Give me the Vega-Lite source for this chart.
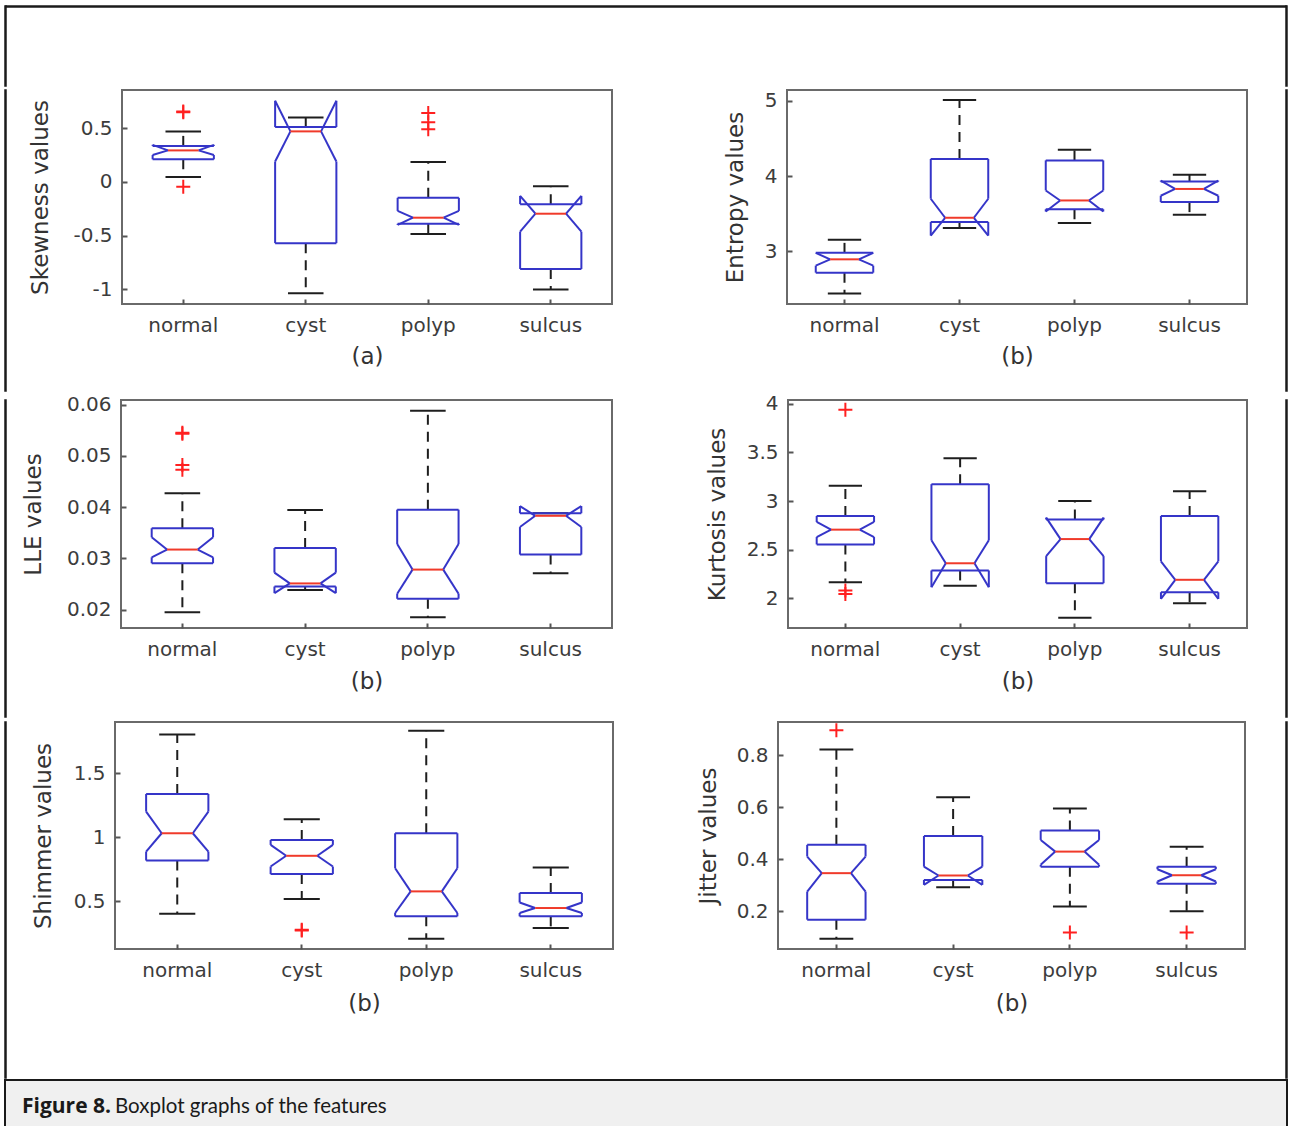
{
"$schema": "https://vega.github.io/schema/vega-lite/v6.json",
"padding": {"left": 2, "top": 3, "right": 0, "bottom": 0},
"background": "#ffffff",
"spacing": 0,
"datasets": {
"boxes": [
{"feature":"Skewness","group":"normal","q1":0.21,"q3":0.335,"med":0.293,"nlo":0.25,"nhi":0.345,"wlo":0.046,"whi":0.47},
{"feature":"Skewness","group":"cyst","q1":-0.57,"q3":0.51,"med":0.47,"nlo":0.19,"nhi":0.755,"wlo":-1.035,"whi":0.6},
{"feature":"Skewness","group":"polyp","q1":-0.39,"q3":-0.148,"med":-0.333,"nlo":-0.4,"nhi":-0.27,"wlo":-0.485,"whi":0.185},
{"feature":"Skewness","group":"sulcus","q1":-0.81,"q3":-0.207,"med":-0.296,"nlo":-0.463,"nhi":-0.13,"wlo":-1.0,"whi":-0.04},
{"feature":"Entropy","group":"normal","q1":2.717,"q3":2.98,"med":2.894,"nlo":2.81,"nhi":2.98,"wlo":2.44,"whi":3.155},
{"feature":"Entropy","group":"cyst","q1":3.39,"q3":4.23,"med":3.447,"nlo":3.21,"nhi":3.7,"wlo":3.31,"whi":5.013},
{"feature":"Entropy","group":"polyp","q1":3.56,"q3":4.21,"med":3.677,"nlo":3.53,"nhi":3.81,"wlo":3.376,"whi":4.35},
{"feature":"Entropy","group":"sulcus","q1":3.655,"q3":3.93,"med":3.83,"nlo":3.74,"nhi":3.94,"wlo":3.487,"whi":4.02},
{"feature":"LLE","group":"normal","q1":0.02904,"q3":0.03587,"med":0.03171,"nlo":0.0302,"nhi":0.0341,"wlo":0.01948,"whi":0.0427},
{"feature":"LLE","group":"cyst","q1":0.0245,"q3":0.032,"med":0.0251,"nlo":0.0232,"nhi":0.0272,"wlo":0.0238,"whi":0.03945},
{"feature":"LLE","group":"polyp","q1":0.0221,"q3":0.0395,"med":0.0278,"nlo":0.0231,"nhi":0.0328,"wlo":0.0185,"whi":0.0588},
{"feature":"LLE","group":"sulcus","q1":0.03073,"q3":0.0388,"med":0.0383,"nlo":0.0361,"nhi":0.0402,"wlo":0.0271,"whi":0.0388},
{"feature":"Kurtosis","group":"normal","q1":2.554,"q3":2.847,"med":2.706,"nlo":2.63,"nhi":2.785,"wlo":2.165,"whi":3.157},
{"feature":"Kurtosis","group":"cyst","q1":2.286,"q3":3.174,"med":2.36,"nlo":2.114,"nhi":2.596,"wlo":2.13,"whi":3.44},
{"feature":"Kurtosis","group":"polyp","q1":2.155,"q3":2.81,"med":2.609,"nlo":2.434,"nhi":2.83,"wlo":1.8,"whi":3.0},
{"feature":"Kurtosis","group":"sulcus","q1":2.062,"q3":2.847,"med":2.19,"nlo":1.993,"nhi":2.38,"wlo":1.948,"whi":3.1},
{"feature":"Shimmer","group":"normal","q1":0.818,"q3":1.338,"med":1.031,"nlo":0.888,"nhi":1.2,"wlo":0.403,"whi":1.803},
{"feature":"Shimmer","group":"cyst","q1":0.712,"q3":0.979,"med":0.855,"nlo":0.771,"nhi":0.94,"wlo":0.517,"whi":1.14},
{"feature":"Shimmer","group":"polyp","q1":0.382,"q3":1.031,"med":0.577,"nlo":0.408,"nhi":0.758,"wlo":0.208,"whi":1.831},
{"feature":"Shimmer","group":"sulcus","q1":0.382,"q3":0.564,"med":0.447,"nlo":0.408,"nhi":0.49,"wlo":0.291,"whi":0.764},
{"feature":"Jitter","group":"normal","q1":0.167,"q3":0.455,"med":0.346,"nlo":0.275,"nhi":0.41,"wlo":0.093,"whi":0.822},
{"feature":"Jitter","group":"cyst","q1":0.32,"q3":0.489,"med":0.337,"nlo":0.301,"nhi":0.371,"wlo":0.292,"whi":0.638},
{"feature":"Jitter","group":"polyp","q1":0.371,"q3":0.51,"med":0.429,"nlo":0.378,"nhi":0.474,"wlo":0.218,"whi":0.595},
{"feature":"Jitter","group":"sulcus","q1":0.305,"q3":0.371,"med":0.338,"nlo":0.314,"nhi":0.361,"wlo":0.199,"whi":0.448}
],
"outliers": [
{"feature":"Skewness","group":"normal","value":0.648},
{"feature":"Skewness","group":"normal","value":0.655},
{"feature":"Skewness","group":"normal","value":-0.046},
{"feature":"Skewness","group":"polyp","value":0.64},
{"feature":"Skewness","group":"polyp","value":0.555},
{"feature":"Skewness","group":"polyp","value":0.49},
{"feature":"LLE","group":"normal","value":0.0545},
{"feature":"LLE","group":"normal","value":0.0543},
{"feature":"LLE","group":"normal","value":0.0482},
{"feature":"LLE","group":"normal","value":0.0473},
{"feature":"Kurtosis","group":"normal","value":3.94},
{"feature":"Kurtosis","group":"normal","value":2.08},
{"feature":"Kurtosis","group":"normal","value":2.045},
{"feature":"Shimmer","group":"cyst","value":0.278},
{"feature":"Shimmer","group":"cyst","value":0.272},
{"feature":"Jitter","group":"normal","value":0.896},
{"feature":"Jitter","group":"polyp","value":0.118},
{"feature":"Jitter","group":"sulcus","value":0.118}
]
},
"vconcat": [
{"hconcat": [
{"width": 1, "height": 80, "data": {"values": [{}]}, "mark": {"type": "point", "opacity": 0}, "view": {"stroke": "#1a1a1a", "strokeWidth": 1.5}},
{"width": 1280, "height": 1, "data": {"values": [{}]}, "mark": {"type": "point", "opacity": 0}, "view": {"stroke": "#1a1a1a", "strokeWidth": 1.5}},
{"width": 1, "height": 80, "data": {"values": [{}]}, "mark": {"type": "point", "opacity": 0}, "view": {"stroke": "#1a1a1a", "strokeWidth": 1.5}}
], "spacing": 0, "bounds": "flush"},
{"hconcat": [
{"width": 1, "height": 301, "data": {"values": [{}]}, "mark": {"type": "point", "opacity": 0}, "view": {"stroke": "#1a1a1a", "strokeWidth": 1.5}},
{"width": 116, "height": 1, "data": {"values": [{}]}, "mark": {"type": "point", "opacity": 0}, "view": {"stroke": null}},
{"width": 490, "height": 214, "data": {"name": "boxes"}, "transform": [{"filter": "datum.feature === 'Skewness'"}],
 "layer": [
  {"mark":{"type":"rule","color":"#1e1e1e","strokeWidth":2,"strokeDash":[10,7]},"encoding":{"x":{"field":"group","type":"nominal","scale":{"domain":["normal","cyst","polyp","sulcus"],"paddingInner":0,"paddingOuter":0},"axis":{"title":"(a)","titleY":52,"titleBaseline":"middle"}},"y":{"field":"q3","type":"quantitative","scale":{"domain":[-1.136,0.855],"nice":false,"zero":false},"axis":{"title":"Skewness values","values":[-1,-0.5,0,0.5],"labelExpr":"'' + datum.value","titleX":-82,"titleBaseline":"middle"}},"y2":{"field":"whi"}}},
  {"mark":{"type":"rule","color":"#1e1e1e","strokeWidth":2,"strokeDash":[10,7]},"encoding":{"x":{"field":"group","type":"nominal","scale":{"domain":["normal","cyst","polyp","sulcus"],"paddingInner":0,"paddingOuter":0}},"y":{"field":"q1","type":"quantitative","scale":{"domain":[-1.136,0.855],"nice":false,"zero":false}},"y2":{"field":"wlo"}}},
  {"mark":{"type":"rule","color":"#1e1e1e","strokeWidth":2},"encoding":{"x":{"field":"group","type":"nominal","bandPosition":0.355,"scale":{"domain":["normal","cyst","polyp","sulcus"],"paddingInner":0,"paddingOuter":0}},"x2":{"field":"group","bandPosition":0.645},"y":{"field":"whi","type":"quantitative","scale":{"domain":[-1.136,0.855],"nice":false,"zero":false}}}},
  {"mark":{"type":"rule","color":"#1e1e1e","strokeWidth":2},"encoding":{"x":{"field":"group","type":"nominal","bandPosition":0.355,"scale":{"domain":["normal","cyst","polyp","sulcus"],"paddingInner":0,"paddingOuter":0}},"x2":{"field":"group","bandPosition":0.645},"y":{"field":"wlo","type":"quantitative","scale":{"domain":[-1.136,0.855],"nice":false,"zero":false}}}},
  {"mark":{"type":"rule","color":"#3535c8","strokeWidth":2},"encoding":{"x":{"field":"group","type":"nominal","bandPosition":0.25,"scale":{"domain":["normal","cyst","polyp","sulcus"],"paddingInner":0,"paddingOuter":0}},"x2":{"field":"group","bandPosition":0.75},"y":{"field":"q3","type":"quantitative","scale":{"domain":[-1.136,0.855],"nice":false,"zero":false}}}},
  {"mark":{"type":"rule","color":"#3535c8","strokeWidth":2},"encoding":{"x":{"field":"group","type":"nominal","bandPosition":0.25,"scale":{"domain":["normal","cyst","polyp","sulcus"],"paddingInner":0,"paddingOuter":0}},"x2":{"field":"group","bandPosition":0.75},"y":{"field":"q1","type":"quantitative","scale":{"domain":[-1.136,0.855],"nice":false,"zero":false}}}},
  {"mark":{"type":"rule","color":"#3535c8","strokeWidth":2},"encoding":{"x":{"field":"group","type":"nominal","bandPosition":0.25,"scale":{"domain":["normal","cyst","polyp","sulcus"],"paddingInner":0,"paddingOuter":0}},"y":{"field":"q3","type":"quantitative","scale":{"domain":[-1.136,0.855],"nice":false,"zero":false}},"y2":{"field":"nhi"}}},
  {"mark":{"type":"rule","color":"#3535c8","strokeWidth":2},"encoding":{"x":{"field":"group","type":"nominal","bandPosition":0.75,"scale":{"domain":["normal","cyst","polyp","sulcus"],"paddingInner":0,"paddingOuter":0}},"y":{"field":"q3","type":"quantitative","scale":{"domain":[-1.136,0.855],"nice":false,"zero":false}},"y2":{"field":"nhi"}}},
  {"mark":{"type":"rule","color":"#3535c8","strokeWidth":2},"encoding":{"x":{"field":"group","type":"nominal","bandPosition":0.25,"scale":{"domain":["normal","cyst","polyp","sulcus"],"paddingInner":0,"paddingOuter":0}},"y":{"field":"nlo","type":"quantitative","scale":{"domain":[-1.136,0.855],"nice":false,"zero":false}},"y2":{"field":"q1"}}},
  {"mark":{"type":"rule","color":"#3535c8","strokeWidth":2},"encoding":{"x":{"field":"group","type":"nominal","bandPosition":0.75,"scale":{"domain":["normal","cyst","polyp","sulcus"],"paddingInner":0,"paddingOuter":0}},"y":{"field":"nlo","type":"quantitative","scale":{"domain":[-1.136,0.855],"nice":false,"zero":false}},"y2":{"field":"q1"}}},
  {"mark":{"type":"rule","color":"#3535c8","strokeWidth":2},"encoding":{"x":{"field":"group","type":"nominal","bandPosition":0.25,"scale":{"domain":["normal","cyst","polyp","sulcus"],"paddingInner":0,"paddingOuter":0}},"x2":{"field":"group","bandPosition":0.375},"y":{"field":"nhi","type":"quantitative","scale":{"domain":[-1.136,0.855],"nice":false,"zero":false}},"y2":{"field":"med"}}},
  {"mark":{"type":"rule","color":"#3535c8","strokeWidth":2},"encoding":{"x":{"field":"group","type":"nominal","bandPosition":0.75,"scale":{"domain":["normal","cyst","polyp","sulcus"],"paddingInner":0,"paddingOuter":0}},"x2":{"field":"group","bandPosition":0.625},"y":{"field":"nhi","type":"quantitative","scale":{"domain":[-1.136,0.855],"nice":false,"zero":false}},"y2":{"field":"med"}}},
  {"mark":{"type":"rule","color":"#3535c8","strokeWidth":2},"encoding":{"x":{"field":"group","type":"nominal","bandPosition":0.25,"scale":{"domain":["normal","cyst","polyp","sulcus"],"paddingInner":0,"paddingOuter":0}},"x2":{"field":"group","bandPosition":0.375},"y":{"field":"nlo","type":"quantitative","scale":{"domain":[-1.136,0.855],"nice":false,"zero":false}},"y2":{"field":"med"}}},
  {"mark":{"type":"rule","color":"#3535c8","strokeWidth":2},"encoding":{"x":{"field":"group","type":"nominal","bandPosition":0.75,"scale":{"domain":["normal","cyst","polyp","sulcus"],"paddingInner":0,"paddingOuter":0}},"x2":{"field":"group","bandPosition":0.625},"y":{"field":"nlo","type":"quantitative","scale":{"domain":[-1.136,0.855],"nice":false,"zero":false}},"y2":{"field":"med"}}},
  {"mark":{"type":"rule","color":"#f03a2a","strokeWidth":2},"encoding":{"x":{"field":"group","type":"nominal","bandPosition":0.375,"scale":{"domain":["normal","cyst","polyp","sulcus"],"paddingInner":0,"paddingOuter":0}},"x2":{"field":"group","bandPosition":0.625},"y":{"field":"med","type":"quantitative","scale":{"domain":[-1.136,0.855],"nice":false,"zero":false}}}},
  {"data":{"name":"outliers"},"transform":[{"filter":"datum.feature === 'Skewness'"}],"mark":{"type":"point","shape":"M-1,0H1M0,-1V1","size":196,"stroke":"#ff2020","strokeWidth":2,"filled":false,"opacity":1},"encoding":{"x":{"field":"group","type":"nominal","scale":{"domain":["normal","cyst","polyp","sulcus"],"paddingInner":0,"paddingOuter":0}},"y":{"field":"value","type":"quantitative","scale":{"domain":[-1.136,0.855],"nice":false,"zero":false}}}}
 ]},
{"width": 175, "height": 1, "data": {"values": [{}]}, "mark": {"type": "point", "opacity": 0}, "view": {"stroke": null}},
{"width": 460, "height": 214, "data": {"name": "boxes"}, "transform": [{"filter": "datum.feature === 'Entropy'"}],
 "layer": [
  {"mark":{"type":"rule","color":"#1e1e1e","strokeWidth":2,"strokeDash":[10,7]},"encoding":{"x":{"field":"group","type":"nominal","scale":{"domain":["normal","cyst","polyp","sulcus"],"paddingInner":0,"paddingOuter":0},"axis":{"title":"(b)","titleY":52,"titleBaseline":"middle"}},"y":{"field":"q3","type":"quantitative","scale":{"domain":[2.3,5.146],"nice":false,"zero":false},"axis":{"title":"Entropy values","values":[3,4,5],"labelExpr":"'' + datum.value","titleX":-52,"titleBaseline":"middle"}},"y2":{"field":"whi"}}},
  {"mark":{"type":"rule","color":"#1e1e1e","strokeWidth":2,"strokeDash":[10,7]},"encoding":{"x":{"field":"group","type":"nominal","scale":{"domain":["normal","cyst","polyp","sulcus"],"paddingInner":0,"paddingOuter":0}},"y":{"field":"q1","type":"quantitative","scale":{"domain":[2.3,5.146],"nice":false,"zero":false}},"y2":{"field":"wlo"}}},
  {"mark":{"type":"rule","color":"#1e1e1e","strokeWidth":2},"encoding":{"x":{"field":"group","type":"nominal","bandPosition":0.355,"scale":{"domain":["normal","cyst","polyp","sulcus"],"paddingInner":0,"paddingOuter":0}},"x2":{"field":"group","bandPosition":0.645},"y":{"field":"whi","type":"quantitative","scale":{"domain":[2.3,5.146],"nice":false,"zero":false}}}},
  {"mark":{"type":"rule","color":"#1e1e1e","strokeWidth":2},"encoding":{"x":{"field":"group","type":"nominal","bandPosition":0.355,"scale":{"domain":["normal","cyst","polyp","sulcus"],"paddingInner":0,"paddingOuter":0}},"x2":{"field":"group","bandPosition":0.645},"y":{"field":"wlo","type":"quantitative","scale":{"domain":[2.3,5.146],"nice":false,"zero":false}}}},
  {"mark":{"type":"rule","color":"#3535c8","strokeWidth":2},"encoding":{"x":{"field":"group","type":"nominal","bandPosition":0.25,"scale":{"domain":["normal","cyst","polyp","sulcus"],"paddingInner":0,"paddingOuter":0}},"x2":{"field":"group","bandPosition":0.75},"y":{"field":"q3","type":"quantitative","scale":{"domain":[2.3,5.146],"nice":false,"zero":false}}}},
  {"mark":{"type":"rule","color":"#3535c8","strokeWidth":2},"encoding":{"x":{"field":"group","type":"nominal","bandPosition":0.25,"scale":{"domain":["normal","cyst","polyp","sulcus"],"paddingInner":0,"paddingOuter":0}},"x2":{"field":"group","bandPosition":0.75},"y":{"field":"q1","type":"quantitative","scale":{"domain":[2.3,5.146],"nice":false,"zero":false}}}},
  {"mark":{"type":"rule","color":"#3535c8","strokeWidth":2},"encoding":{"x":{"field":"group","type":"nominal","bandPosition":0.25,"scale":{"domain":["normal","cyst","polyp","sulcus"],"paddingInner":0,"paddingOuter":0}},"y":{"field":"q3","type":"quantitative","scale":{"domain":[2.3,5.146],"nice":false,"zero":false}},"y2":{"field":"nhi"}}},
  {"mark":{"type":"rule","color":"#3535c8","strokeWidth":2},"encoding":{"x":{"field":"group","type":"nominal","bandPosition":0.75,"scale":{"domain":["normal","cyst","polyp","sulcus"],"paddingInner":0,"paddingOuter":0}},"y":{"field":"q3","type":"quantitative","scale":{"domain":[2.3,5.146],"nice":false,"zero":false}},"y2":{"field":"nhi"}}},
  {"mark":{"type":"rule","color":"#3535c8","strokeWidth":2},"encoding":{"x":{"field":"group","type":"nominal","bandPosition":0.25,"scale":{"domain":["normal","cyst","polyp","sulcus"],"paddingInner":0,"paddingOuter":0}},"y":{"field":"nlo","type":"quantitative","scale":{"domain":[2.3,5.146],"nice":false,"zero":false}},"y2":{"field":"q1"}}},
  {"mark":{"type":"rule","color":"#3535c8","strokeWidth":2},"encoding":{"x":{"field":"group","type":"nominal","bandPosition":0.75,"scale":{"domain":["normal","cyst","polyp","sulcus"],"paddingInner":0,"paddingOuter":0}},"y":{"field":"nlo","type":"quantitative","scale":{"domain":[2.3,5.146],"nice":false,"zero":false}},"y2":{"field":"q1"}}},
  {"mark":{"type":"rule","color":"#3535c8","strokeWidth":2},"encoding":{"x":{"field":"group","type":"nominal","bandPosition":0.25,"scale":{"domain":["normal","cyst","polyp","sulcus"],"paddingInner":0,"paddingOuter":0}},"x2":{"field":"group","bandPosition":0.375},"y":{"field":"nhi","type":"quantitative","scale":{"domain":[2.3,5.146],"nice":false,"zero":false}},"y2":{"field":"med"}}},
  {"mark":{"type":"rule","color":"#3535c8","strokeWidth":2},"encoding":{"x":{"field":"group","type":"nominal","bandPosition":0.75,"scale":{"domain":["normal","cyst","polyp","sulcus"],"paddingInner":0,"paddingOuter":0}},"x2":{"field":"group","bandPosition":0.625},"y":{"field":"nhi","type":"quantitative","scale":{"domain":[2.3,5.146],"nice":false,"zero":false}},"y2":{"field":"med"}}},
  {"mark":{"type":"rule","color":"#3535c8","strokeWidth":2},"encoding":{"x":{"field":"group","type":"nominal","bandPosition":0.25,"scale":{"domain":["normal","cyst","polyp","sulcus"],"paddingInner":0,"paddingOuter":0}},"x2":{"field":"group","bandPosition":0.375},"y":{"field":"nlo","type":"quantitative","scale":{"domain":[2.3,5.146],"nice":false,"zero":false}},"y2":{"field":"med"}}},
  {"mark":{"type":"rule","color":"#3535c8","strokeWidth":2},"encoding":{"x":{"field":"group","type":"nominal","bandPosition":0.75,"scale":{"domain":["normal","cyst","polyp","sulcus"],"paddingInner":0,"paddingOuter":0}},"x2":{"field":"group","bandPosition":0.625},"y":{"field":"nlo","type":"quantitative","scale":{"domain":[2.3,5.146],"nice":false,"zero":false}},"y2":{"field":"med"}}},
  {"mark":{"type":"rule","color":"#f03a2a","strokeWidth":2},"encoding":{"x":{"field":"group","type":"nominal","bandPosition":0.375,"scale":{"domain":["normal","cyst","polyp","sulcus"],"paddingInner":0,"paddingOuter":0}},"x2":{"field":"group","bandPosition":0.625},"y":{"field":"med","type":"quantitative","scale":{"domain":[2.3,5.146],"nice":false,"zero":false}}}}
 ]},
{"width": 39, "height": 1, "data": {"values": [{}]}, "mark": {"type": "point", "opacity": 0}, "view": {"stroke": null}},
{"width": 1, "height": 301, "data": {"values": [{}]}, "mark": {"type": "point", "opacity": 0}, "view": {"stroke": "#1a1a1a", "strokeWidth": 1.5}}
], "spacing": 0, "bounds": "flush"},
{"hconcat": [
{"width": 1, "height": 317, "data": {"values": [{}]}, "mark": {"type": "point", "opacity": 0}, "view": {"stroke": "#1a1a1a", "strokeWidth": 1.5}},
{"width": 115, "height": 1, "data": {"values": [{}]}, "mark": {"type": "point", "opacity": 0}, "view": {"stroke": null}},
{"width": 491, "height": 228, "data": {"name": "boxes"}, "transform": [{"filter": "datum.feature === 'LLE'"}],
 "layer": [
  {"mark":{"type":"rule","color":"#1e1e1e","strokeWidth":2,"strokeDash":[10,7]},"encoding":{"x":{"field":"group","type":"nominal","scale":{"domain":["normal","cyst","polyp","sulcus"],"paddingInner":0,"paddingOuter":0},"axis":{"title":"(b)","titleY":53,"titleBaseline":"middle"}},"y":{"field":"q3","type":"quantitative","scale":{"domain":[0.0164,0.0609],"nice":false,"zero":false},"axis":{"title":"LLE values","values":[0.02,0.03,0.04,0.05,0.06],"labelExpr":"'' + datum.value","titleX":-88,"titleBaseline":"middle"}},"y2":{"field":"whi"}}},
  {"mark":{"type":"rule","color":"#1e1e1e","strokeWidth":2,"strokeDash":[10,7]},"encoding":{"x":{"field":"group","type":"nominal","scale":{"domain":["normal","cyst","polyp","sulcus"],"paddingInner":0,"paddingOuter":0}},"y":{"field":"q1","type":"quantitative","scale":{"domain":[0.0164,0.0609],"nice":false,"zero":false}},"y2":{"field":"wlo"}}},
  {"mark":{"type":"rule","color":"#1e1e1e","strokeWidth":2},"encoding":{"x":{"field":"group","type":"nominal","bandPosition":0.355,"scale":{"domain":["normal","cyst","polyp","sulcus"],"paddingInner":0,"paddingOuter":0}},"x2":{"field":"group","bandPosition":0.645},"y":{"field":"whi","type":"quantitative","scale":{"domain":[0.0164,0.0609],"nice":false,"zero":false}}}},
  {"mark":{"type":"rule","color":"#1e1e1e","strokeWidth":2},"encoding":{"x":{"field":"group","type":"nominal","bandPosition":0.355,"scale":{"domain":["normal","cyst","polyp","sulcus"],"paddingInner":0,"paddingOuter":0}},"x2":{"field":"group","bandPosition":0.645},"y":{"field":"wlo","type":"quantitative","scale":{"domain":[0.0164,0.0609],"nice":false,"zero":false}}}},
  {"mark":{"type":"rule","color":"#3535c8","strokeWidth":2},"encoding":{"x":{"field":"group","type":"nominal","bandPosition":0.25,"scale":{"domain":["normal","cyst","polyp","sulcus"],"paddingInner":0,"paddingOuter":0}},"x2":{"field":"group","bandPosition":0.75},"y":{"field":"q3","type":"quantitative","scale":{"domain":[0.0164,0.0609],"nice":false,"zero":false}}}},
  {"mark":{"type":"rule","color":"#3535c8","strokeWidth":2},"encoding":{"x":{"field":"group","type":"nominal","bandPosition":0.25,"scale":{"domain":["normal","cyst","polyp","sulcus"],"paddingInner":0,"paddingOuter":0}},"x2":{"field":"group","bandPosition":0.75},"y":{"field":"q1","type":"quantitative","scale":{"domain":[0.0164,0.0609],"nice":false,"zero":false}}}},
  {"mark":{"type":"rule","color":"#3535c8","strokeWidth":2},"encoding":{"x":{"field":"group","type":"nominal","bandPosition":0.25,"scale":{"domain":["normal","cyst","polyp","sulcus"],"paddingInner":0,"paddingOuter":0}},"y":{"field":"q3","type":"quantitative","scale":{"domain":[0.0164,0.0609],"nice":false,"zero":false}},"y2":{"field":"nhi"}}},
  {"mark":{"type":"rule","color":"#3535c8","strokeWidth":2},"encoding":{"x":{"field":"group","type":"nominal","bandPosition":0.75,"scale":{"domain":["normal","cyst","polyp","sulcus"],"paddingInner":0,"paddingOuter":0}},"y":{"field":"q3","type":"quantitative","scale":{"domain":[0.0164,0.0609],"nice":false,"zero":false}},"y2":{"field":"nhi"}}},
  {"mark":{"type":"rule","color":"#3535c8","strokeWidth":2},"encoding":{"x":{"field":"group","type":"nominal","bandPosition":0.25,"scale":{"domain":["normal","cyst","polyp","sulcus"],"paddingInner":0,"paddingOuter":0}},"y":{"field":"nlo","type":"quantitative","scale":{"domain":[0.0164,0.0609],"nice":false,"zero":false}},"y2":{"field":"q1"}}},
  {"mark":{"type":"rule","color":"#3535c8","strokeWidth":2},"encoding":{"x":{"field":"group","type":"nominal","bandPosition":0.75,"scale":{"domain":["normal","cyst","polyp","sulcus"],"paddingInner":0,"paddingOuter":0}},"y":{"field":"nlo","type":"quantitative","scale":{"domain":[0.0164,0.0609],"nice":false,"zero":false}},"y2":{"field":"q1"}}},
  {"mark":{"type":"rule","color":"#3535c8","strokeWidth":2},"encoding":{"x":{"field":"group","type":"nominal","bandPosition":0.25,"scale":{"domain":["normal","cyst","polyp","sulcus"],"paddingInner":0,"paddingOuter":0}},"x2":{"field":"group","bandPosition":0.375},"y":{"field":"nhi","type":"quantitative","scale":{"domain":[0.0164,0.0609],"nice":false,"zero":false}},"y2":{"field":"med"}}},
  {"mark":{"type":"rule","color":"#3535c8","strokeWidth":2},"encoding":{"x":{"field":"group","type":"nominal","bandPosition":0.75,"scale":{"domain":["normal","cyst","polyp","sulcus"],"paddingInner":0,"paddingOuter":0}},"x2":{"field":"group","bandPosition":0.625},"y":{"field":"nhi","type":"quantitative","scale":{"domain":[0.0164,0.0609],"nice":false,"zero":false}},"y2":{"field":"med"}}},
  {"mark":{"type":"rule","color":"#3535c8","strokeWidth":2},"encoding":{"x":{"field":"group","type":"nominal","bandPosition":0.25,"scale":{"domain":["normal","cyst","polyp","sulcus"],"paddingInner":0,"paddingOuter":0}},"x2":{"field":"group","bandPosition":0.375},"y":{"field":"nlo","type":"quantitative","scale":{"domain":[0.0164,0.0609],"nice":false,"zero":false}},"y2":{"field":"med"}}},
  {"mark":{"type":"rule","color":"#3535c8","strokeWidth":2},"encoding":{"x":{"field":"group","type":"nominal","bandPosition":0.75,"scale":{"domain":["normal","cyst","polyp","sulcus"],"paddingInner":0,"paddingOuter":0}},"x2":{"field":"group","bandPosition":0.625},"y":{"field":"nlo","type":"quantitative","scale":{"domain":[0.0164,0.0609],"nice":false,"zero":false}},"y2":{"field":"med"}}},
  {"mark":{"type":"rule","color":"#f03a2a","strokeWidth":2},"encoding":{"x":{"field":"group","type":"nominal","bandPosition":0.375,"scale":{"domain":["normal","cyst","polyp","sulcus"],"paddingInner":0,"paddingOuter":0}},"x2":{"field":"group","bandPosition":0.625},"y":{"field":"med","type":"quantitative","scale":{"domain":[0.0164,0.0609],"nice":false,"zero":false}}}},
  {"data":{"name":"outliers"},"transform":[{"filter":"datum.feature === 'LLE'"}],"mark":{"type":"point","shape":"M-1,0H1M0,-1V1","size":196,"stroke":"#ff2020","strokeWidth":2,"filled":false,"opacity":1},"encoding":{"x":{"field":"group","type":"nominal","scale":{"domain":["normal","cyst","polyp","sulcus"],"paddingInner":0,"paddingOuter":0}},"y":{"field":"value","type":"quantitative","scale":{"domain":[0.0164,0.0609],"nice":false,"zero":false}}}}
 ]},
{"width": 176, "height": 1, "data": {"values": [{}]}, "mark": {"type": "point", "opacity": 0}, "view": {"stroke": null}},
{"width": 459, "height": 228, "data": {"name": "boxes"}, "transform": [{"filter": "datum.feature === 'Kurtosis'"}],
 "layer": [
  {"mark":{"type":"rule","color":"#1e1e1e","strokeWidth":2,"strokeDash":[10,7]},"encoding":{"x":{"field":"group","type":"nominal","scale":{"domain":["normal","cyst","polyp","sulcus"],"paddingInner":0,"paddingOuter":0},"axis":{"title":"(b)","titleY":53,"titleBaseline":"middle"}},"y":{"field":"q3","type":"quantitative","scale":{"domain":[1.694,4.04],"nice":false,"zero":false},"axis":{"title":"Kurtosis values","values":[2,2.5,3,3.5,4],"labelExpr":"'' + datum.value","titleX":-71,"titleBaseline":"middle"}},"y2":{"field":"whi"}}},
  {"mark":{"type":"rule","color":"#1e1e1e","strokeWidth":2,"strokeDash":[10,7]},"encoding":{"x":{"field":"group","type":"nominal","scale":{"domain":["normal","cyst","polyp","sulcus"],"paddingInner":0,"paddingOuter":0}},"y":{"field":"q1","type":"quantitative","scale":{"domain":[1.694,4.04],"nice":false,"zero":false}},"y2":{"field":"wlo"}}},
  {"mark":{"type":"rule","color":"#1e1e1e","strokeWidth":2},"encoding":{"x":{"field":"group","type":"nominal","bandPosition":0.355,"scale":{"domain":["normal","cyst","polyp","sulcus"],"paddingInner":0,"paddingOuter":0}},"x2":{"field":"group","bandPosition":0.645},"y":{"field":"whi","type":"quantitative","scale":{"domain":[1.694,4.04],"nice":false,"zero":false}}}},
  {"mark":{"type":"rule","color":"#1e1e1e","strokeWidth":2},"encoding":{"x":{"field":"group","type":"nominal","bandPosition":0.355,"scale":{"domain":["normal","cyst","polyp","sulcus"],"paddingInner":0,"paddingOuter":0}},"x2":{"field":"group","bandPosition":0.645},"y":{"field":"wlo","type":"quantitative","scale":{"domain":[1.694,4.04],"nice":false,"zero":false}}}},
  {"mark":{"type":"rule","color":"#3535c8","strokeWidth":2},"encoding":{"x":{"field":"group","type":"nominal","bandPosition":0.25,"scale":{"domain":["normal","cyst","polyp","sulcus"],"paddingInner":0,"paddingOuter":0}},"x2":{"field":"group","bandPosition":0.75},"y":{"field":"q3","type":"quantitative","scale":{"domain":[1.694,4.04],"nice":false,"zero":false}}}},
  {"mark":{"type":"rule","color":"#3535c8","strokeWidth":2},"encoding":{"x":{"field":"group","type":"nominal","bandPosition":0.25,"scale":{"domain":["normal","cyst","polyp","sulcus"],"paddingInner":0,"paddingOuter":0}},"x2":{"field":"group","bandPosition":0.75},"y":{"field":"q1","type":"quantitative","scale":{"domain":[1.694,4.04],"nice":false,"zero":false}}}},
  {"mark":{"type":"rule","color":"#3535c8","strokeWidth":2},"encoding":{"x":{"field":"group","type":"nominal","bandPosition":0.25,"scale":{"domain":["normal","cyst","polyp","sulcus"],"paddingInner":0,"paddingOuter":0}},"y":{"field":"q3","type":"quantitative","scale":{"domain":[1.694,4.04],"nice":false,"zero":false}},"y2":{"field":"nhi"}}},
  {"mark":{"type":"rule","color":"#3535c8","strokeWidth":2},"encoding":{"x":{"field":"group","type":"nominal","bandPosition":0.75,"scale":{"domain":["normal","cyst","polyp","sulcus"],"paddingInner":0,"paddingOuter":0}},"y":{"field":"q3","type":"quantitative","scale":{"domain":[1.694,4.04],"nice":false,"zero":false}},"y2":{"field":"nhi"}}},
  {"mark":{"type":"rule","color":"#3535c8","strokeWidth":2},"encoding":{"x":{"field":"group","type":"nominal","bandPosition":0.25,"scale":{"domain":["normal","cyst","polyp","sulcus"],"paddingInner":0,"paddingOuter":0}},"y":{"field":"nlo","type":"quantitative","scale":{"domain":[1.694,4.04],"nice":false,"zero":false}},"y2":{"field":"q1"}}},
  {"mark":{"type":"rule","color":"#3535c8","strokeWidth":2},"encoding":{"x":{"field":"group","type":"nominal","bandPosition":0.75,"scale":{"domain":["normal","cyst","polyp","sulcus"],"paddingInner":0,"paddingOuter":0}},"y":{"field":"nlo","type":"quantitative","scale":{"domain":[1.694,4.04],"nice":false,"zero":false}},"y2":{"field":"q1"}}},
  {"mark":{"type":"rule","color":"#3535c8","strokeWidth":2},"encoding":{"x":{"field":"group","type":"nominal","bandPosition":0.25,"scale":{"domain":["normal","cyst","polyp","sulcus"],"paddingInner":0,"paddingOuter":0}},"x2":{"field":"group","bandPosition":0.375},"y":{"field":"nhi","type":"quantitative","scale":{"domain":[1.694,4.04],"nice":false,"zero":false}},"y2":{"field":"med"}}},
  {"mark":{"type":"rule","color":"#3535c8","strokeWidth":2},"encoding":{"x":{"field":"group","type":"nominal","bandPosition":0.75,"scale":{"domain":["normal","cyst","polyp","sulcus"],"paddingInner":0,"paddingOuter":0}},"x2":{"field":"group","bandPosition":0.625},"y":{"field":"nhi","type":"quantitative","scale":{"domain":[1.694,4.04],"nice":false,"zero":false}},"y2":{"field":"med"}}},
  {"mark":{"type":"rule","color":"#3535c8","strokeWidth":2},"encoding":{"x":{"field":"group","type":"nominal","bandPosition":0.25,"scale":{"domain":["normal","cyst","polyp","sulcus"],"paddingInner":0,"paddingOuter":0}},"x2":{"field":"group","bandPosition":0.375},"y":{"field":"nlo","type":"quantitative","scale":{"domain":[1.694,4.04],"nice":false,"zero":false}},"y2":{"field":"med"}}},
  {"mark":{"type":"rule","color":"#3535c8","strokeWidth":2},"encoding":{"x":{"field":"group","type":"nominal","bandPosition":0.75,"scale":{"domain":["normal","cyst","polyp","sulcus"],"paddingInner":0,"paddingOuter":0}},"x2":{"field":"group","bandPosition":0.625},"y":{"field":"nlo","type":"quantitative","scale":{"domain":[1.694,4.04],"nice":false,"zero":false}},"y2":{"field":"med"}}},
  {"mark":{"type":"rule","color":"#f03a2a","strokeWidth":2},"encoding":{"x":{"field":"group","type":"nominal","bandPosition":0.375,"scale":{"domain":["normal","cyst","polyp","sulcus"],"paddingInner":0,"paddingOuter":0}},"x2":{"field":"group","bandPosition":0.625},"y":{"field":"med","type":"quantitative","scale":{"domain":[1.694,4.04],"nice":false,"zero":false}}}},
  {"data":{"name":"outliers"},"transform":[{"filter":"datum.feature === 'Kurtosis'"}],"mark":{"type":"point","shape":"M-1,0H1M0,-1V1","size":196,"stroke":"#ff2020","strokeWidth":2,"filled":false,"opacity":1},"encoding":{"x":{"field":"group","type":"nominal","scale":{"domain":["normal","cyst","polyp","sulcus"],"paddingInner":0,"paddingOuter":0}},"y":{"field":"value","type":"quantitative","scale":{"domain":[1.694,4.04],"nice":false,"zero":false}}}}
 ]},
{"width": 39, "height": 1, "data": {"values": [{}]}, "mark": {"type": "point", "opacity": 0}, "view": {"stroke": null}},
{"width": 1, "height": 317, "data": {"values": [{}]}, "mark": {"type": "point", "opacity": 0}, "view": {"stroke": "#1a1a1a", "strokeWidth": 1.5}}
], "spacing": 0, "bounds": "flush"},
{"hconcat": [
{"width": 1, "height": 356, "data": {"values": [{}]}, "mark": {"type": "point", "opacity": 0}, "view": {"stroke": "#1a1a1a", "strokeWidth": 1.5}},
{"width": 109, "height": 1, "data": {"values": [{}]}, "mark": {"type": "point", "opacity": 0}, "view": {"stroke": null}},
{"width": 498, "height": 227, "data": {"name": "boxes"}, "transform": [{"filter": "datum.feature === 'Shimmer'"}],
 "layer": [
  {"mark":{"type":"rule","color":"#1e1e1e","strokeWidth":2,"strokeDash":[10,7]},"encoding":{"x":{"field":"group","type":"nominal","scale":{"domain":["normal","cyst","polyp","sulcus"],"paddingInner":0,"paddingOuter":0},"axis":{"title":"(b)","titleY":54,"titleBaseline":"middle"}},"y":{"field":"q3","type":"quantitative","scale":{"domain":[0.127,1.9],"nice":false,"zero":false},"axis":{"title":"Shimmer values","values":[0.5,1,1.5],"labelExpr":"'' + datum.value","titleX":-72,"titleBaseline":"middle"}},"y2":{"field":"whi"}}},
  {"mark":{"type":"rule","color":"#1e1e1e","strokeWidth":2,"strokeDash":[10,7]},"encoding":{"x":{"field":"group","type":"nominal","scale":{"domain":["normal","cyst","polyp","sulcus"],"paddingInner":0,"paddingOuter":0}},"y":{"field":"q1","type":"quantitative","scale":{"domain":[0.127,1.9],"nice":false,"zero":false}},"y2":{"field":"wlo"}}},
  {"mark":{"type":"rule","color":"#1e1e1e","strokeWidth":2},"encoding":{"x":{"field":"group","type":"nominal","bandPosition":0.355,"scale":{"domain":["normal","cyst","polyp","sulcus"],"paddingInner":0,"paddingOuter":0}},"x2":{"field":"group","bandPosition":0.645},"y":{"field":"whi","type":"quantitative","scale":{"domain":[0.127,1.9],"nice":false,"zero":false}}}},
  {"mark":{"type":"rule","color":"#1e1e1e","strokeWidth":2},"encoding":{"x":{"field":"group","type":"nominal","bandPosition":0.355,"scale":{"domain":["normal","cyst","polyp","sulcus"],"paddingInner":0,"paddingOuter":0}},"x2":{"field":"group","bandPosition":0.645},"y":{"field":"wlo","type":"quantitative","scale":{"domain":[0.127,1.9],"nice":false,"zero":false}}}},
  {"mark":{"type":"rule","color":"#3535c8","strokeWidth":2},"encoding":{"x":{"field":"group","type":"nominal","bandPosition":0.25,"scale":{"domain":["normal","cyst","polyp","sulcus"],"paddingInner":0,"paddingOuter":0}},"x2":{"field":"group","bandPosition":0.75},"y":{"field":"q3","type":"quantitative","scale":{"domain":[0.127,1.9],"nice":false,"zero":false}}}},
  {"mark":{"type":"rule","color":"#3535c8","strokeWidth":2},"encoding":{"x":{"field":"group","type":"nominal","bandPosition":0.25,"scale":{"domain":["normal","cyst","polyp","sulcus"],"paddingInner":0,"paddingOuter":0}},"x2":{"field":"group","bandPosition":0.75},"y":{"field":"q1","type":"quantitative","scale":{"domain":[0.127,1.9],"nice":false,"zero":false}}}},
  {"mark":{"type":"rule","color":"#3535c8","strokeWidth":2},"encoding":{"x":{"field":"group","type":"nominal","bandPosition":0.25,"scale":{"domain":["normal","cyst","polyp","sulcus"],"paddingInner":0,"paddingOuter":0}},"y":{"field":"q3","type":"quantitative","scale":{"domain":[0.127,1.9],"nice":false,"zero":false}},"y2":{"field":"nhi"}}},
  {"mark":{"type":"rule","color":"#3535c8","strokeWidth":2},"encoding":{"x":{"field":"group","type":"nominal","bandPosition":0.75,"scale":{"domain":["normal","cyst","polyp","sulcus"],"paddingInner":0,"paddingOuter":0}},"y":{"field":"q3","type":"quantitative","scale":{"domain":[0.127,1.9],"nice":false,"zero":false}},"y2":{"field":"nhi"}}},
  {"mark":{"type":"rule","color":"#3535c8","strokeWidth":2},"encoding":{"x":{"field":"group","type":"nominal","bandPosition":0.25,"scale":{"domain":["normal","cyst","polyp","sulcus"],"paddingInner":0,"paddingOuter":0}},"y":{"field":"nlo","type":"quantitative","scale":{"domain":[0.127,1.9],"nice":false,"zero":false}},"y2":{"field":"q1"}}},
  {"mark":{"type":"rule","color":"#3535c8","strokeWidth":2},"encoding":{"x":{"field":"group","type":"nominal","bandPosition":0.75,"scale":{"domain":["normal","cyst","polyp","sulcus"],"paddingInner":0,"paddingOuter":0}},"y":{"field":"nlo","type":"quantitative","scale":{"domain":[0.127,1.9],"nice":false,"zero":false}},"y2":{"field":"q1"}}},
  {"mark":{"type":"rule","color":"#3535c8","strokeWidth":2},"encoding":{"x":{"field":"group","type":"nominal","bandPosition":0.25,"scale":{"domain":["normal","cyst","polyp","sulcus"],"paddingInner":0,"paddingOuter":0}},"x2":{"field":"group","bandPosition":0.375},"y":{"field":"nhi","type":"quantitative","scale":{"domain":[0.127,1.9],"nice":false,"zero":false}},"y2":{"field":"med"}}},
  {"mark":{"type":"rule","color":"#3535c8","strokeWidth":2},"encoding":{"x":{"field":"group","type":"nominal","bandPosition":0.75,"scale":{"domain":["normal","cyst","polyp","sulcus"],"paddingInner":0,"paddingOuter":0}},"x2":{"field":"group","bandPosition":0.625},"y":{"field":"nhi","type":"quantitative","scale":{"domain":[0.127,1.9],"nice":false,"zero":false}},"y2":{"field":"med"}}},
  {"mark":{"type":"rule","color":"#3535c8","strokeWidth":2},"encoding":{"x":{"field":"group","type":"nominal","bandPosition":0.25,"scale":{"domain":["normal","cyst","polyp","sulcus"],"paddingInner":0,"paddingOuter":0}},"x2":{"field":"group","bandPosition":0.375},"y":{"field":"nlo","type":"quantitative","scale":{"domain":[0.127,1.9],"nice":false,"zero":false}},"y2":{"field":"med"}}},
  {"mark":{"type":"rule","color":"#3535c8","strokeWidth":2},"encoding":{"x":{"field":"group","type":"nominal","bandPosition":0.75,"scale":{"domain":["normal","cyst","polyp","sulcus"],"paddingInner":0,"paddingOuter":0}},"x2":{"field":"group","bandPosition":0.625},"y":{"field":"nlo","type":"quantitative","scale":{"domain":[0.127,1.9],"nice":false,"zero":false}},"y2":{"field":"med"}}},
  {"mark":{"type":"rule","color":"#f03a2a","strokeWidth":2},"encoding":{"x":{"field":"group","type":"nominal","bandPosition":0.375,"scale":{"domain":["normal","cyst","polyp","sulcus"],"paddingInner":0,"paddingOuter":0}},"x2":{"field":"group","bandPosition":0.625},"y":{"field":"med","type":"quantitative","scale":{"domain":[0.127,1.9],"nice":false,"zero":false}}}},
  {"data":{"name":"outliers"},"transform":[{"filter":"datum.feature === 'Shimmer'"}],"mark":{"type":"point","shape":"M-1,0H1M0,-1V1","size":196,"stroke":"#ff2020","strokeWidth":2,"filled":false,"opacity":1},"encoding":{"x":{"field":"group","type":"nominal","scale":{"domain":["normal","cyst","polyp","sulcus"],"paddingInner":0,"paddingOuter":0}},"y":{"field":"value","type":"quantitative","scale":{"domain":[0.127,1.9],"nice":false,"zero":false}}}}
 ]},
{"width": 165, "height": 1, "data": {"values": [{}]}, "mark": {"type": "point", "opacity": 0}, "view": {"stroke": null}},
{"width": 467, "height": 227, "data": {"name": "boxes"}, "transform": [{"filter": "datum.feature === 'Jitter'"}],
 "layer": [
  {"mark":{"type":"rule","color":"#1e1e1e","strokeWidth":2,"strokeDash":[10,7]},"encoding":{"x":{"field":"group","type":"nominal","scale":{"domain":["normal","cyst","polyp","sulcus"],"paddingInner":0,"paddingOuter":0},"axis":{"title":"(b)","titleY":54,"titleBaseline":"middle"}},"y":{"field":"q3","type":"quantitative","scale":{"domain":[0.054,0.928],"nice":false,"zero":false},"axis":{"title":"Jitter values","values":[0.2,0.4,0.6,0.8],"labelExpr":"'' + datum.value","titleX":-70,"titleBaseline":"middle"}},"y2":{"field":"whi"}}},
  {"mark":{"type":"rule","color":"#1e1e1e","strokeWidth":2,"strokeDash":[10,7]},"encoding":{"x":{"field":"group","type":"nominal","scale":{"domain":["normal","cyst","polyp","sulcus"],"paddingInner":0,"paddingOuter":0}},"y":{"field":"q1","type":"quantitative","scale":{"domain":[0.054,0.928],"nice":false,"zero":false}},"y2":{"field":"wlo"}}},
  {"mark":{"type":"rule","color":"#1e1e1e","strokeWidth":2},"encoding":{"x":{"field":"group","type":"nominal","bandPosition":0.355,"scale":{"domain":["normal","cyst","polyp","sulcus"],"paddingInner":0,"paddingOuter":0}},"x2":{"field":"group","bandPosition":0.645},"y":{"field":"whi","type":"quantitative","scale":{"domain":[0.054,0.928],"nice":false,"zero":false}}}},
  {"mark":{"type":"rule","color":"#1e1e1e","strokeWidth":2},"encoding":{"x":{"field":"group","type":"nominal","bandPosition":0.355,"scale":{"domain":["normal","cyst","polyp","sulcus"],"paddingInner":0,"paddingOuter":0}},"x2":{"field":"group","bandPosition":0.645},"y":{"field":"wlo","type":"quantitative","scale":{"domain":[0.054,0.928],"nice":false,"zero":false}}}},
  {"mark":{"type":"rule","color":"#3535c8","strokeWidth":2},"encoding":{"x":{"field":"group","type":"nominal","bandPosition":0.25,"scale":{"domain":["normal","cyst","polyp","sulcus"],"paddingInner":0,"paddingOuter":0}},"x2":{"field":"group","bandPosition":0.75},"y":{"field":"q3","type":"quantitative","scale":{"domain":[0.054,0.928],"nice":false,"zero":false}}}},
  {"mark":{"type":"rule","color":"#3535c8","strokeWidth":2},"encoding":{"x":{"field":"group","type":"nominal","bandPosition":0.25,"scale":{"domain":["normal","cyst","polyp","sulcus"],"paddingInner":0,"paddingOuter":0}},"x2":{"field":"group","bandPosition":0.75},"y":{"field":"q1","type":"quantitative","scale":{"domain":[0.054,0.928],"nice":false,"zero":false}}}},
  {"mark":{"type":"rule","color":"#3535c8","strokeWidth":2},"encoding":{"x":{"field":"group","type":"nominal","bandPosition":0.25,"scale":{"domain":["normal","cyst","polyp","sulcus"],"paddingInner":0,"paddingOuter":0}},"y":{"field":"q3","type":"quantitative","scale":{"domain":[0.054,0.928],"nice":false,"zero":false}},"y2":{"field":"nhi"}}},
  {"mark":{"type":"rule","color":"#3535c8","strokeWidth":2},"encoding":{"x":{"field":"group","type":"nominal","bandPosition":0.75,"scale":{"domain":["normal","cyst","polyp","sulcus"],"paddingInner":0,"paddingOuter":0}},"y":{"field":"q3","type":"quantitative","scale":{"domain":[0.054,0.928],"nice":false,"zero":false}},"y2":{"field":"nhi"}}},
  {"mark":{"type":"rule","color":"#3535c8","strokeWidth":2},"encoding":{"x":{"field":"group","type":"nominal","bandPosition":0.25,"scale":{"domain":["normal","cyst","polyp","sulcus"],"paddingInner":0,"paddingOuter":0}},"y":{"field":"nlo","type":"quantitative","scale":{"domain":[0.054,0.928],"nice":false,"zero":false}},"y2":{"field":"q1"}}},
  {"mark":{"type":"rule","color":"#3535c8","strokeWidth":2},"encoding":{"x":{"field":"group","type":"nominal","bandPosition":0.75,"scale":{"domain":["normal","cyst","polyp","sulcus"],"paddingInner":0,"paddingOuter":0}},"y":{"field":"nlo","type":"quantitative","scale":{"domain":[0.054,0.928],"nice":false,"zero":false}},"y2":{"field":"q1"}}},
  {"mark":{"type":"rule","color":"#3535c8","strokeWidth":2},"encoding":{"x":{"field":"group","type":"nominal","bandPosition":0.25,"scale":{"domain":["normal","cyst","polyp","sulcus"],"paddingInner":0,"paddingOuter":0}},"x2":{"field":"group","bandPosition":0.375},"y":{"field":"nhi","type":"quantitative","scale":{"domain":[0.054,0.928],"nice":false,"zero":false}},"y2":{"field":"med"}}},
  {"mark":{"type":"rule","color":"#3535c8","strokeWidth":2},"encoding":{"x":{"field":"group","type":"nominal","bandPosition":0.75,"scale":{"domain":["normal","cyst","polyp","sulcus"],"paddingInner":0,"paddingOuter":0}},"x2":{"field":"group","bandPosition":0.625},"y":{"field":"nhi","type":"quantitative","scale":{"domain":[0.054,0.928],"nice":false,"zero":false}},"y2":{"field":"med"}}},
  {"mark":{"type":"rule","color":"#3535c8","strokeWidth":2},"encoding":{"x":{"field":"group","type":"nominal","bandPosition":0.25,"scale":{"domain":["normal","cyst","polyp","sulcus"],"paddingInner":0,"paddingOuter":0}},"x2":{"field":"group","bandPosition":0.375},"y":{"field":"nlo","type":"quantitative","scale":{"domain":[0.054,0.928],"nice":false,"zero":false}},"y2":{"field":"med"}}},
  {"mark":{"type":"rule","color":"#3535c8","strokeWidth":2},"encoding":{"x":{"field":"group","type":"nominal","bandPosition":0.75,"scale":{"domain":["normal","cyst","polyp","sulcus"],"paddingInner":0,"paddingOuter":0}},"x2":{"field":"group","bandPosition":0.625},"y":{"field":"nlo","type":"quantitative","scale":{"domain":[0.054,0.928],"nice":false,"zero":false}},"y2":{"field":"med"}}},
  {"mark":{"type":"rule","color":"#f03a2a","strokeWidth":2},"encoding":{"x":{"field":"group","type":"nominal","bandPosition":0.375,"scale":{"domain":["normal","cyst","polyp","sulcus"],"paddingInner":0,"paddingOuter":0}},"x2":{"field":"group","bandPosition":0.625},"y":{"field":"med","type":"quantitative","scale":{"domain":[0.054,0.928],"nice":false,"zero":false}}}},
  {"data":{"name":"outliers"},"transform":[{"filter":"datum.feature === 'Jitter'"}],"mark":{"type":"point","shape":"M-1,0H1M0,-1V1","size":196,"stroke":"#ff2020","strokeWidth":2,"filled":false,"opacity":1},"encoding":{"x":{"field":"group","type":"nominal","scale":{"domain":["normal","cyst","polyp","sulcus"],"paddingInner":0,"paddingOuter":0}},"y":{"field":"value","type":"quantitative","scale":{"domain":[0.054,0.928],"nice":false,"zero":false}}}}
 ]},
{"width": 41, "height": 1, "data": {"values": [{}]}, "mark": {"type": "point", "opacity": 0}, "view": {"stroke": null}},
{"width": 1, "height": 356, "data": {"values": [{}]}, "mark": {"type": "point", "opacity": 0}, "view": {"stroke": "#1a1a1a", "strokeWidth": 1.5}}
], "spacing": 0, "bounds": "flush"},
{"width": 1282, "height": 50, "view": {"fill": "#f0f0f0", "stroke": "#1a1a1a", "strokeWidth": 2},
 "data": {"values": [{"bold": "Figure 8.", "rest": "Boxplot graphs of the features"}]},
 "layer": [
  {"mark": {"type": "text", "align": "left", "baseline": "alphabetic", "font": "Open Sans", "fontWeight": "bold", "fontSize": 21, "color": "#1a1a1a", "dx": 17},
   "encoding": {"x": {"datum": 0, "type": "quantitative", "scale": {"domain": [0, 1]}, "axis": null}, "y": {"datum": 0.34, "type": "quantitative", "scale": {"domain": [0, 1]}, "axis": null}, "text": {"field": "bold"}}},
  {"mark": {"type": "text", "align": "left", "baseline": "alphabetic", "font": "Lato", "fontWeight": "normal", "fontSize": 20.5, "color": "#1a1a1a", "dx": 110},
   "encoding": {"x": {"datum": 0, "type": "quantitative", "scale": {"domain": [0, 1]}, "axis": null}, "y": {"datum": 0.34, "type": "quantitative", "scale": {"domain": [0, 1]}, "axis": null}, "text": {"field": "rest"}}}
 ]}
],
"config": {
  "view": {"stroke": "#6a6a6a", "strokeWidth": 2},
  "axis": {"grid": false, "domain": false, "labelFont": "DejaVu Sans", "labelFontSize": 20, "labelColor": "#3c3c3c", "titleFont": "DejaVu Sans", "titleFontSize": 23, "titleFontWeight": "normal", "titleColor": "#333333", "tickColor": "#555555", "tickWidth": 2, "tickSize": -5},
  "axisX": {"labelAngle": 0, "labelPadding": 16},
  "axisY": {"labelPadding": 15}
}
}
